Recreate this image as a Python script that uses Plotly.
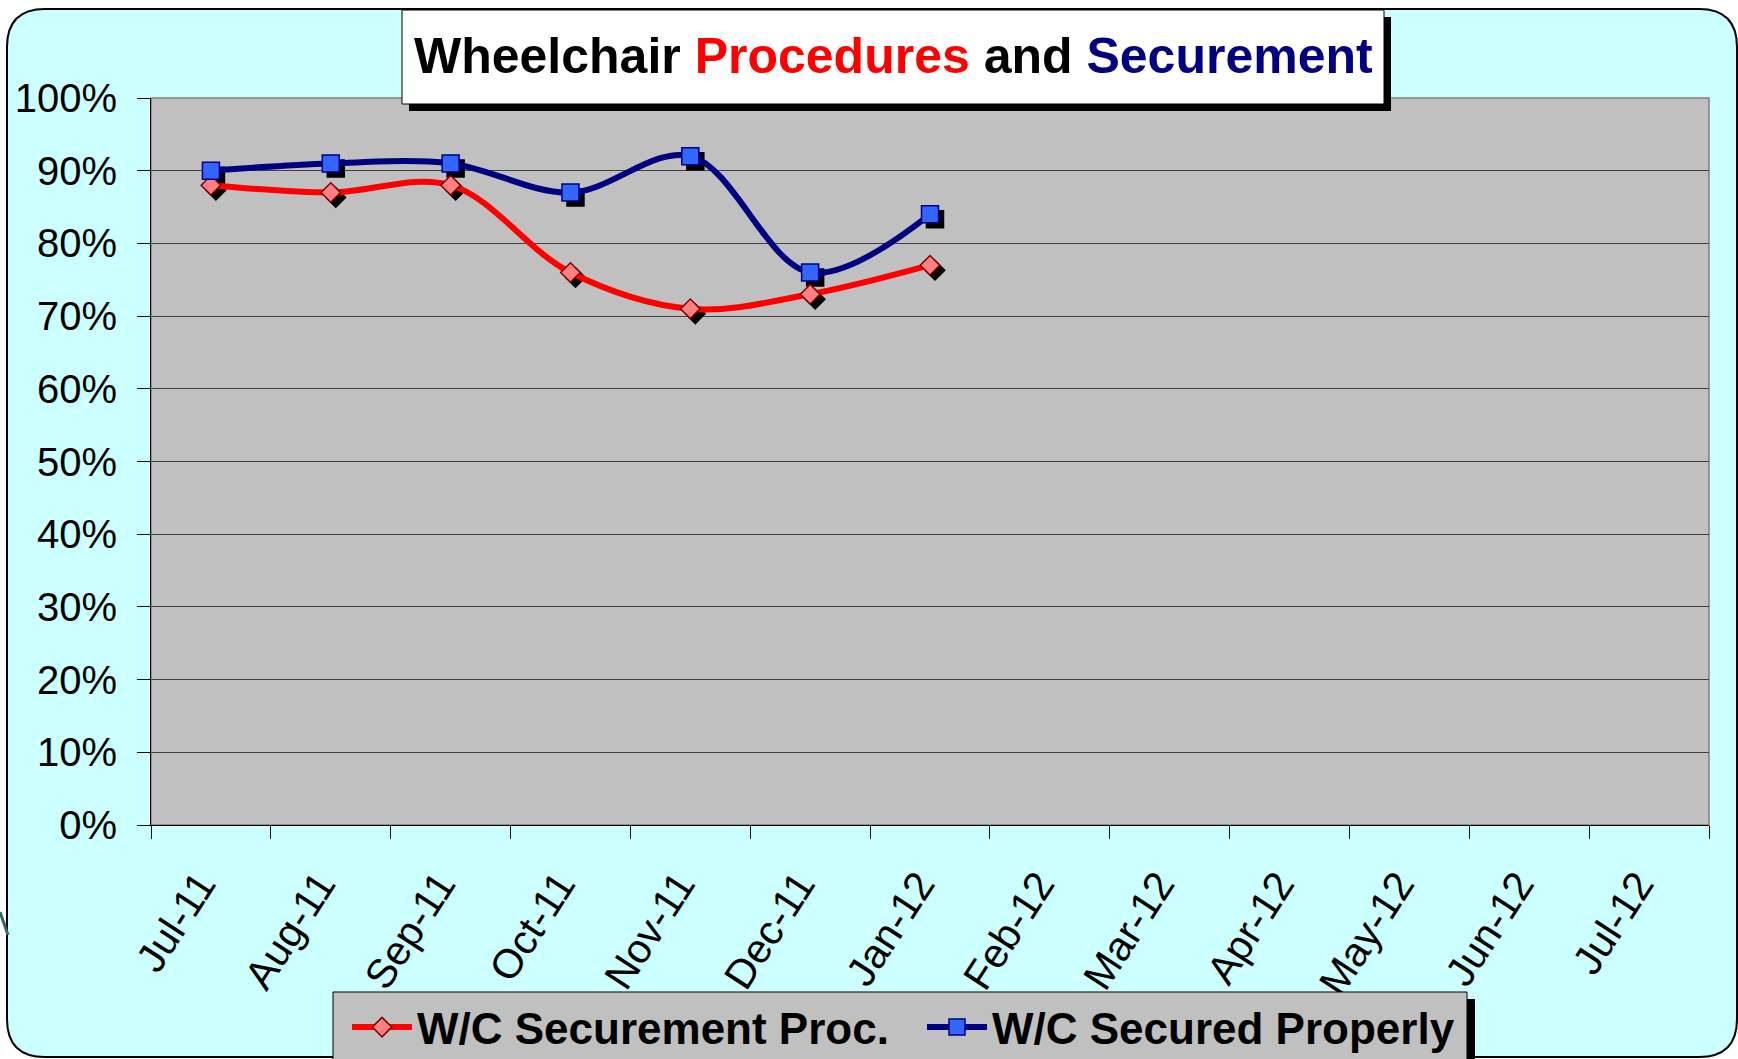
import plotly.graph_objects as go

# ---- data -------------------------------------------------------------
months = ["Jul-11", "Aug-11", "Sep-11", "Oct-11", "Nov-11", "Dec-11", "Jan-12",
          "Feb-12", "Mar-12", "Apr-12", "May-12", "Jun-12", "Jul-12"]
securement_proc = [88, 87, 88, 76, 71, 73, 77, None, None, None, None, None, None]
secured_properly = [90, 91, 91, 87, 92, 76, 84, None, None, None, None, None, None]
series_names = ["W/C Securement Proc.", "W/C Secured Properly"]
y_ticks = list(range(0, 101, 10))

# ---- canvas geometry (pixels) ----------------------------------------
W, H = 1738, 1059
PL, PR, PT, PB = 151, 1709, 98, 825   # plot area edges
FONT = "Liberation Sans, Arial, sans-serif"


def fx(p):
    return (p - PL) / (PR - PL)


def fy(p):
    return (PB - p) / (PB - PT)


xs = list(range(len(months)))

# marker drop-shadow offset, converted from pixels to axis units
sdx = 5 / ((PR - PL) / len(months))
sdy = 5 / ((PB - PT) / 100)


def shifted(vals):
    return [None if v is None else v - sdy for v in vals]


fig = go.Figure()

# black shadows under the markers
for vals, sym, size in [(securement_proc, "diamond", 15), (secured_properly, "square", 17)]:
    fig.add_trace(go.Scatter(
        x=[x + sdx for x in xs], y=shifted(vals), mode="markers",
        marker=dict(symbol=sym, size=size, color="black", line=dict(width=1.5, color="black")),
        showlegend=False, hoverinfo="skip"))

fig.add_trace(go.Scatter(
    x=xs, y=securement_proc, name=series_names[0], mode="lines+markers",
    line=dict(color="#FF0000", width=6, shape="spline", smoothing=1),
    marker=dict(symbol="diamond", size=15, color="#FF8080",
                line=dict(width=1.5, color="#800000"))))
fig.add_trace(go.Scatter(
    x=xs, y=secured_properly, name=series_names[1], mode="lines+markers",
    line=dict(color="#000080", width=6, shape="spline", smoothing=1),
    marker=dict(symbol="square", size=17, color="#3366FF",
                line=dict(width=1.5, color="#000080"))))


# rounded cyan backdrop
def rounded_path(x0, y0, x1, y1, r):
    pts = [("M", [(x0 + r, y0)]), ("L", [(x1 - r, y0)]), ("Q", [(x1, y0), (x1, y0 + r)]),
           ("L", [(x1, y1 - r)]), ("Q", [(x1, y1), (x1 - r, y1)]), ("L", [(x0 + r, y1)]),
           ("Q", [(x0, y1), (x0, y1 - r)]), ("L", [(x0, y0 + r)]), ("Q", [(x0, y0), (x0 + r, y0)])]
    out = []
    for cmd, ps in pts:
        out.append(cmd + " ".join(f"{fx(a):.5f},{fy(b):.5f}" for a, b in ps))
    return " ".join(out) + " Z"


def px_rect(x0, y0, x1, y1, **kw):
    return dict(type="rect", xref="paper", yref="paper",
                x0=fx(x0), x1=fx(x1), y0=fy(y1), y1=fy(y0), **kw)


shapes = [
    dict(type="path", xref="paper", yref="paper", layer="below",
         path=rounded_path(7, 9, 1737, 1057, 38),
         fillcolor="#CCFFFF", line=dict(color="black", width=2)),
    dict(type="rect", xref="paper", yref="paper", layer="below",
         x0=0, x1=1, y0=0, y1=1, fillcolor="#C0C0C0", line=dict(width=0)),
    dict(type="rect", xref="paper", yref="paper", layer="below",
         x0=0, x1=1, y0=0, y1=1, line=dict(color="#808080", width=1.5)),
    # title box with shadow
    px_rect(409, 17, 1391, 111, layer="above", fillcolor="black", line=dict(width=0)),
    px_rect(402, 10, 1384, 104, layer="above", fillcolor="white", line=dict(color="black", width=1)),
    # legend panel with shadow
    px_rect(340, 999, 1475, 1090, layer="above", fillcolor="black", line=dict(width=0)),
    px_rect(333, 992, 1467, 1080, layer="above", fillcolor="#C0C0C0", line=dict(color="black", width=1)),
    # stray connector stroke at far left
    dict(type="line", xref="paper", yref="paper", x0=fx(0), y0=fy(912), x1=fx(8), y1=fy(935),
         line=dict(color="#336666", width=3)),
]

title_html = ("Wheelchair <span style='color:#FF0000'>Procedures</span> and "
              "<span style='color:#000080'>Securement</span>")

fig.update_layout(
    width=W, height=H,
    margin=dict(l=PL, r=W - PR, t=PT, b=H - PB, autoexpand=False),
    paper_bgcolor="white", plot_bgcolor="#C0C0C0",
    font=dict(family=FONT, color="black"),
    shapes=shapes,
    annotations=[dict(xref="paper", yref="paper", x=fx(893), y=fy(56),
                      xanchor="center", yanchor="middle", showarrow=False,
                      text=title_html,
                      font=dict(family=FONT, size=50, color="black", weight="bold"))],
    showlegend=True,
    legend=dict(orientation="h", x=fx(333), y=fy(992), xanchor="left", yanchor="top",
                bgcolor="rgba(0,0,0,0)", borderwidth=0, indentation=14,
                font=dict(family=FONT, size=44, color="black", weight="bold"),
                itemwidth=60, entrywidth=486, tracegroupgap=0),
    xaxis=dict(range=[-0.5, len(months) - 0.5], tickmode="array", tickvals=xs, ticktext=months,
               ticks="", tickangle=-57, tickfont=dict(family=FONT, size=41, color="black"),
               ticklabelstandoff=18, ticklabelshift=-11,
               showgrid=False, zeroline=False, showline=True, linecolor="black", linewidth=1,
               minor=dict(ticks="outside", tick0=-0.5, dtick=1, ticklen=13,
                          tickcolor="black", tickwidth=1, showgrid=False),
               fixedrange=True),
    yaxis=dict(range=[0, 100], tickmode="array", tickvals=y_ticks,
               ticktext=[f"{v}%" for v in y_ticks],
               ticks="outside", ticklen=13, tickcolor="black", tickwidth=1,
               tickfont=dict(family=FONT, size=40, color="black"), ticklabelstandoff=12,
               showgrid=True, gridcolor="#404040", gridwidth=1,
               zeroline=False, showline=True, linecolor="black", linewidth=1,
               fixedrange=True),
)

fig.write_html("out.html")
